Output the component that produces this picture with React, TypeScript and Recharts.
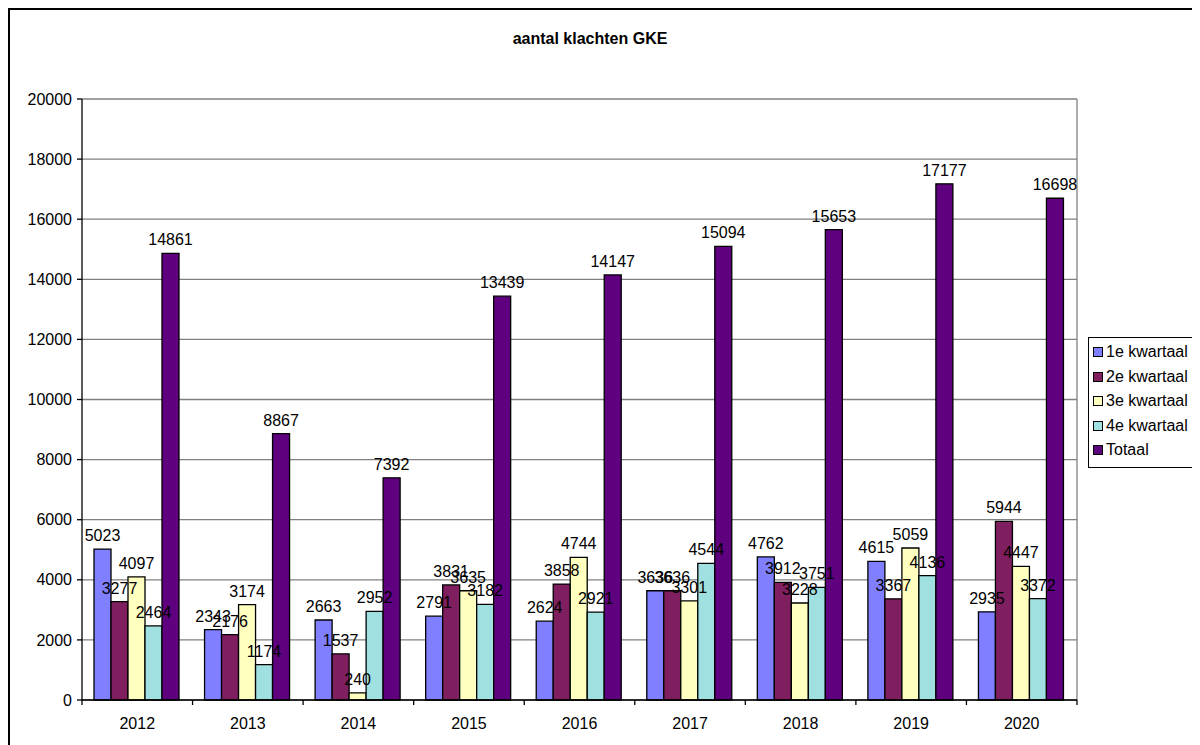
import React from 'react';
import { BarChart, Bar, XAxis, YAxis, CartesianGrid, Legend, LabelList, ReferenceLine } from 'recharts';

const years = ['2012', '2013', '2014', '2015', '2016', '2017', '2018', '2019', '2020'];
const q1 = [5023, 2343, 2663, 2791, 2624, 3636, 4762, 4615, 2935];
const q2 = [3277, 2176, 1537, 3831, 3858, 3636, 3912, 3367, 5944];
const q3 = [4097, 3174, 240, 3635, 4744, 3301, 3228, 5059, 4447];
const q4 = [2464, 1174, 2952, 3182, 2921, 4544, 3751, 4136, 3372];
const totaal = [14861, 8867, 7392, 13439, 14147, 15094, 15653, 17177, 16698];
const yTicks = [0, 2000, 4000, 6000, 8000, 10000, 12000, 14000, 16000, 18000, 20000];
const sepTicks = [0, 1, 2, 3, 4, 5, 6, 7, 8, 9];

const series = [
  { key: 'q1', name: '1e kwartaal', color: '#7F7FFF' },
  { key: 'q2', name: '2e kwartaal', color: '#7F1F5F' },
  { key: 'q3', name: '3e kwartaal', color: '#FFFFC0' },
  { key: 'q4', name: '4e kwartaal', color: '#A0E0E0' },
  { key: 'totaal', name: 'Totaal', color: '#5F007F' },
];

const data = years.map((year, i) => ({
  year,
  q1: q1[i],
  q2: q2[i],
  q3: q3[i],
  q4: q4[i],
  totaal: totaal[i],
}));

const FONT = '"Liberation Sans", Arial, sans-serif';

const LegendBox = () => (
  <div
    style={{
      border: '1px solid #000',
      background: '#fff',
      width: 106,
      padding: '2px 0 4px 0',
      fontFamily: FONT,
      fontSize: 16,
      color: '#000',
      boxSizing: 'content-box',
      textAlign: 'left',
    }}
  >
    {series.map((s) => (
      <div key={s.key} style={{ display: 'flex', alignItems: 'center', height: 24.5, whiteSpace: 'nowrap' }}>
        <span
          style={{
            display: 'inline-block',
            width: 8,
            height: 8,
            border: '1px solid #000',
            background: s.color,
            marginLeft: 4,
            marginRight: 3,
            flex: 'none',
          }}
        />
        <span>{s.name}</span>
      </div>
    ))}
  </div>
);

export default function App() {
  return (
    <div
      style={{
        position: 'relative',
        width: 1186,
        height: 740,
        border: '2px solid #000',
        background: '#fff',
        fontFamily: FONT,
      }}
    >
      <div
        style={{
          position: 'absolute',
          top: 20,
          left: 580,
          transform: 'translateX(-50%)',
          fontWeight: 'bold',
          fontSize: 16,
          whiteSpace: 'nowrap',
        }}
      >
        aantal klachten GKE
      </div>
      <BarChart
        width={1186}
        height={738}
        data={data}
        margin={{ top: 89, right: 119, bottom: 18, left: 0 }}
        barCategoryGap={12}
        barGap={0}
        style={{ fontFamily: FONT }}
      >
        <CartesianGrid vertical={false} stroke="#808080" strokeWidth={1.3} />
        <XAxis
          xAxisId="a"
          type="number"
          dataKey={() => 0}
          domain={[0, 9]}
          ticks={sepTicks}
          interval={0}
          height={5}
          tickSize={5}
          tickFormatter={() => ''}
          axisLine={{ stroke: '#000', strokeWidth: 1.3 }}
          tickLine={{ stroke: '#000', strokeWidth: 1.3 }}
        />
        <XAxis
          xAxisId="b"
          dataKey="year"
          height={25}
          axisLine={false}
          tickLine={false}
          tick={{ fill: '#000', fontSize: 16 }}
          tickMargin={7}
        />
        <YAxis
          width={72}
          domain={[0, 20000]}
          ticks={yTicks}
          interval={0}
          tickSize={5}
          tickMargin={5}
          tick={{ fill: '#000', fontSize: 16 }}
          axisLine={{ stroke: '#000', strokeWidth: 1.3 }}
          tickLine={{ stroke: '#000', strokeWidth: 1.3 }}
        />
        <ReferenceLine xAxisId="a" x={9} stroke="#808080" strokeWidth={1.3} />
        <Legend
          layout="vertical"
          verticalAlign="middle"
          align="center"
          content={() => <LegendBox />}
          wrapperStyle={{ left: 1078, top: 327, width: 108 }}
        />
        {series.map((s) => (
          <Bar
            key={s.key}
            xAxisId="b"
            dataKey={s.key}
            name={s.name}
            fill={s.color}
            stroke="#000"
            strokeWidth={1.3}
            isAnimationActive={false}
          >
            <LabelList dataKey={s.key} position="top" offset={8} fill="#000" fontSize={16} />
          </Bar>
        ))}
      </BarChart>
    </div>
  );
}
